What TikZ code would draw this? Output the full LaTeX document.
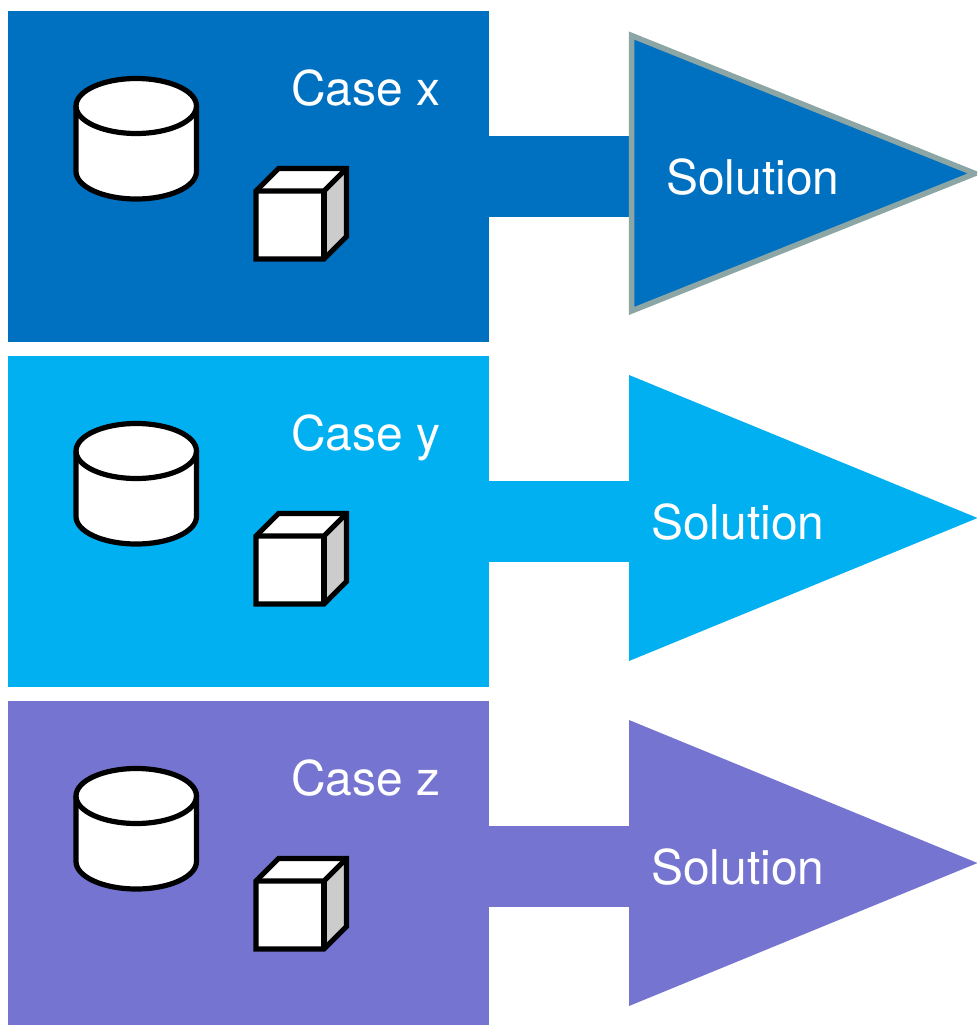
\documentclass[tikz,border=0pt]{standalone}
\usepackage{fontspec}
\setmainfont{TeX Gyre Heros}
\definecolor{casex}{HTML}{0070C0}
\definecolor{casey}{HTML}{00B0F0}
\definecolor{casez}{HTML}{7575D1}
\definecolor{triedge}{HTML}{8CA5A5}
\definecolor{cubeside}{HTML}{CCCCCC}
\tikzset{
  lbl/.style={anchor=base west,inner sep=0pt,text=white,font=\fontsize{47.9}{50}\selectfont},
  casebox/.style={rectangle,inner sep=0pt,minimum width=481pt,minimum height=331pt,draw=none},
  symline/.style={draw=black,line width=5.2pt,line join=miter},
  bar/.style={line width=80.5pt}
}
\begin{document}
\begin{tikzpicture}[x=1pt,y=-1pt]
\useasboundingbox (0,0) rectangle (977,1025);
\fill[white] (0,0) rectangle (977,1025);
\begin{scope}
\clip (0,0) rectangle (977,1025);
\foreach \n/\off/\col/\txt/\sx in {x/0/casex/Case x/666, y/345/casey/Case y/651, z/690/casez/Case z/651}{
  \begin{scope}[yshift=-\off pt]
    % case panel
    \node[casebox,fill=\col] (box\n) at (248.5,176.5) {};
    % connector bar
    \coordinate (tri\n) at (631,176.25);
    \draw[bar,\col] (box\n.east |- tri\n) -- (tri\n);
    % solution triangle
    \ifnum\off=0
      \fill[\col,draw=triedge,line width=5.5pt,line join=miter]
        (631.5,35.5) -- (975,173.5) -- (631.5,311) -- cycle;
    \else
      \fill[\col] (629,30) -- (977.5,173) -- (629,316) -- cycle;
    \fi
    % labels
    \node[lbl] (case\n) at (291,105) {\txt};
    \node[lbl] (sol\n) at (\sx,194.5) {Solution};
    % cylinder
    \draw[symline,fill=white] (76,106) -- (76,171.5)
      arc[start angle=180,end angle=0,x radius=60.25,y radius=27.5]
      -- (196.5,106)
      arc[start angle=0,end angle=-180,x radius=60.25,y radius=27.5] -- cycle;
    \draw[symline] (76,106) arc[start angle=180,end angle=0,x radius=60.25,y radius=27.5];
    % cube
    \fill[white] (256,191) -- (278.5,168.5) -- (346.5,168.5) -- (324,191) -- cycle;
    \fill[cubeside] (324,191) -- (346.5,168.5) -- (346.5,236.5) -- (324,259) -- cycle;
    \fill[white] (256,191) rectangle (324,259);
    \draw[symline] (256,191) -- (278.5,168.5) -- (346.5,168.5) -- (346.5,236.5) -- (324,259) -- (256,259) -- cycle;
    \draw[symline] (256,191) -- (324,191) -- (346.5,168.5);
    \draw[symline] (324,191) -- (324,259);
  \end{scope}
}
\end{scope}
\end{tikzpicture}
\end{document}
